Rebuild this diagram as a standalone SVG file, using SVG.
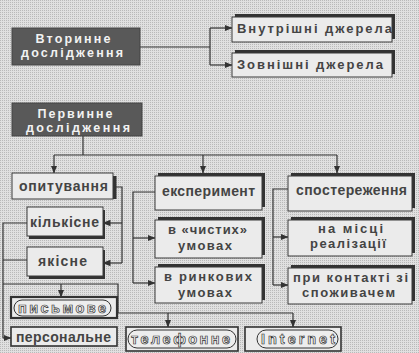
<svg xmlns="http://www.w3.org/2000/svg" width="419" height="353" viewBox="0 0 419 353">
<defs>
<pattern id="dots" width="2" height="2" patternUnits="userSpaceOnUse">
<rect width="2" height="2" fill="#e0e0e0"/>
<rect width="1" height="1" fill="#b9b9b9"/>
</pattern>
<marker id="ar" viewBox="0 0 8 8" refX="7.5" refY="4" markerWidth="8" markerHeight="8" markerUnits="userSpaceOnUse" orient="auto">
<path d="M0,0.8 L8,4 L0,7.2 Z" fill="#333"/>
</marker>
<style>
.dark{fill:#595959;stroke:#444;stroke-width:1}
.wt{font-family:"Liberation Sans",Arial,sans-serif;font-weight:bold;font-size:12.5px;fill:#f2f2f2;text-anchor:middle}
.box{fill:#ebebeb;stroke:#3a3a3a;stroke-width:1}
.sh{fill:#333}
.t{font-family:"Liberation Sans",Arial,sans-serif;font-weight:bold;font-size:13px;fill:#444}
.tb{font-family:"Liberation Sans",Arial,sans-serif;font-weight:bold;font-size:14px;fill:#444}
.ol{font-family:"Liberation Sans",Arial,sans-serif;font-weight:bold;font-size:14.5px;fill:#f6f6f6;stroke:#333;stroke-width:0.7}
.pill{fill:#ededed;stroke:#333;stroke-width:1}
.bb{fill:#ebebeb;stroke:#333;stroke-width:1.6}
.c{fill:none;stroke:#333;stroke-width:1.2}
.ca{fill:none;stroke:#333;stroke-width:1.2;marker-end:url(#ar)}
</style>
</defs>
<rect width="419" height="353" fill="url(#dots)"/>

<g id="connectors">
<path class="c" d="M140,47 H210 M210,28 V65"/>
<path class="ca" d="M210,28 H232"/>
<path class="ca" d="M210,65 H232"/>
<path class="c" d="M83,136 V155 M54,155 H337"/>
<path class="ca" d="M54,155 V173"/>
<path class="ca" d="M203,155 V173"/>
<path class="ca" d="M337,155 V173"/>
<path class="c" d="M116,187 H122 V263"/>
<path class="ca" d="M122,223 H103"/>
<path class="ca" d="M122,263 H103"/>
<path class="c" d="M27,223 H3 V338 M27,260 H3 M3,284 H118 V313 H293"/>
<path class="ca" d="M3,338 H11"/>
<path class="ca" d="M61,284 V297"/>
<path class="ca" d="M168,313 V327"/>
<path class="ca" d="M293,313 V327"/>
<path class="c" d="M155,192 H133 V283"/>
<path class="ca" d="M133,238 H155"/>
<path class="ca" d="M133,283 H155"/>
<path class="c" d="M288,189 H273 V285"/>
<path class="ca" d="M273,237 H288"/>
<path class="ca" d="M273,285 H288"/>
</g>

<g id="secondary">
<rect class="dark" x="12" y="28" width="128" height="37"/>
<text class="wt" x="73" y="43" textLength="75" lengthAdjust="spacing">Вторинне</text>
<text class="wt" x="72" y="57" textLength="102" lengthAdjust="spacing">дослідження</text>
</g>

<g id="internal">
<rect class="sh" x="235" y="14" width="160" height="25"/>
<rect class="box" x="232" y="17" width="160" height="25"/>
<text class="t" x="237" y="33" textLength="155" lengthAdjust="spacing">Внутрішні джерела</text>
</g>

<g id="external">
<rect class="sh" x="235" y="50" width="160" height="24"/>
<rect class="box" x="232" y="53" width="160" height="24"/>
<text class="t" x="237" y="69" textLength="146" lengthAdjust="spacing">Зовнішні джерела</text>
</g>

<g id="primary">
<rect class="dark" x="12" y="103" width="130" height="33"/>
<text class="wt" x="75" y="118" textLength="75" lengthAdjust="spacing">Первинне</text>
<text class="wt" x="78" y="132" textLength="104" lengthAdjust="spacing">дослідження</text>
</g>

<g id="survey">
<rect class="sh" x="112" y="176" width="4.5" height="23"/>
<rect class="box" x="12" y="173" width="101" height="26"/>
<text class="tb" x="19" y="191" textLength="89" lengthAdjust="spacing">опитування</text>
</g>

<g id="experiment">
<rect class="sh" x="158" y="173" width="107" height="34"/>
<rect class="box" x="155" y="176" width="107" height="34"/>
<text class="tb" x="162" y="196" textLength="93" lengthAdjust="spacing">експеримент</text>
</g>

<g id="observation">
<rect class="sh" x="291" y="173" width="124" height="35"/>
<rect class="box" x="288" y="176" width="124" height="35"/>
<text class="tb" x="296" y="195" textLength="111" lengthAdjust="spacing">спостереження</text>
</g>

<g id="quantitative">
<rect class="sh" x="29" y="210" width="76" height="29"/>
<rect class="box" x="27" y="207" width="76" height="29"/>
<text class="tb" x="30" y="227" textLength="69" lengthAdjust="spacing">кількісне</text>
</g>

<g id="qualitative">
<rect class="sh" x="29" y="250" width="76" height="29"/>
<rect class="box" x="27" y="247" width="76" height="29"/>
<text class="tb" x="38" y="266" textLength="49" lengthAdjust="spacing">якісне</text>
</g>

<g id="clean">
<rect class="sh" x="158" y="217" width="107" height="38"/>
<rect class="box" x="155" y="220" width="107" height="38"/>
<text class="t" x="168" y="234" textLength="79" lengthAdjust="spacing">в «чистих»</text>
<text class="t" x="178" y="250" textLength="54" lengthAdjust="spacing">умовах</text>
</g>

<g id="market">
<rect class="sh" x="158" y="264" width="107" height="36"/>
<rect class="box" x="155" y="267" width="107" height="36"/>
<text class="t" x="164" y="281" textLength="88" lengthAdjust="spacing">в ринкових</text>
<text class="t" x="178" y="297" textLength="54" lengthAdjust="spacing">умовах</text>
</g>

<g id="onsite">
<rect class="sh" x="291" y="217" width="124" height="36"/>
<rect class="box" x="288" y="220" width="124" height="36"/>
<text class="t" x="318" y="233" textLength="65" lengthAdjust="spacing">на місці</text>
<text class="t" x="310" y="248" textLength="76" lengthAdjust="spacing">реалізації</text>
</g>

<g id="contact">
<rect class="sh" x="291" y="265" width="124" height="36"/>
<rect class="box" x="288" y="268" width="124" height="36"/>
<text class="t" x="293" y="282" textLength="115" lengthAdjust="spacing">при контакті зі</text>
<text class="t" x="302" y="297" textLength="93" lengthAdjust="spacing">споживачем</text>
</g>

<g id="written">
<rect x="11" y="297" width="106" height="21" fill="#ebebeb" stroke="#333" stroke-width="2.2"/>
<rect class="pill" x="14" y="300" width="97" height="16" rx="8"/>
<text class="ol" x="18" y="313" textLength="88" lengthAdjust="spacing">письмове</text>
</g>

<g id="personal">
<rect class="bb" x="11" y="327" width="106" height="19"/>
<text class="tb" x="16" y="342" textLength="95" lengthAdjust="spacing">персональне</text>
</g>

<g id="phone">
<rect class="bb" x="126" y="327" width="112" height="24"/>
<rect class="pill" x="128" y="330" width="108" height="18" rx="9"/>
<text class="ol" x="131" y="344" textLength="99" lengthAdjust="spacing">телефонне</text>
</g>

<g id="internet">
<rect class="bb" x="245" y="327" width="96" height="24"/>
<rect class="pill" x="257" y="330" width="81" height="18" rx="9"/>
<text class="ol" x="261" y="344" textLength="74" lengthAdjust="spacing">Internet</text>
</g>
</svg>
